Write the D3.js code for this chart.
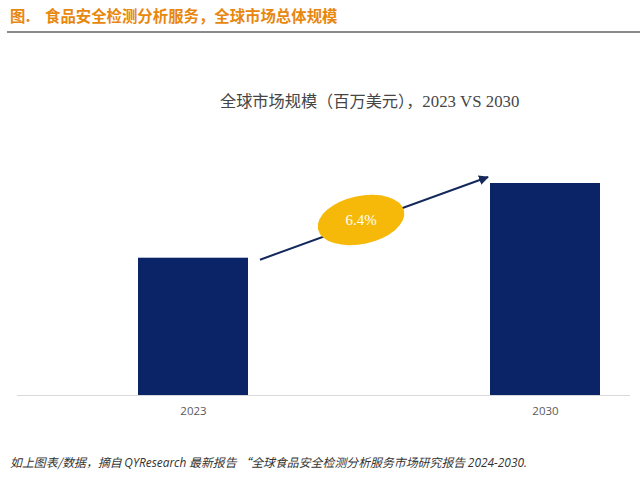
<!DOCTYPE html>
<html><head><meta charset="utf-8">
<script src="https://cdn.jsdelivr.net/npm/d3@7"></script>
<style>body{margin:0;background:#fff}svg{display:block}</style>
</head><body>
<script>
const categories = ["2023", "2030"];
const values = [100, 154.4];
const cagrLabel = "6.4%";
const headerLead = "图.";
const header = "食品安全检测分析服务，全球市场总体规模";
const chartTitleCn = "全球市场规模（百万美元），";
const chartTitleEn = "2023 VS 2030";
const footnote = ["如上图表/数据，摘自 ", "QYResearch", " 最新报告 “全球食品安全检测分析服务市场研究报告 ", "2024-2030."];

const W = 640, H = 479;
const svg = d3.select("body").append("svg").attr("width", W).attr("height", H);

// header
const hd = svg.append("g").attr("font-family", "Noto Sans CJK SC").attr("font-weight", "bold")
  .attr("font-size", 15.4).attr("fill", "#E8870E");
hd.append("text").attr("x", 10).attr("y", 22).text(headerLead);
hd.append("text").attr("x", 45).attr("y", 22).text(header);
svg.append("line").attr("x1", 7).attr("x2", 640).attr("y1", 32).attr("y2", 32)
  .attr("stroke", "#8a8a8a").attr("stroke-width", 2);

// title
const t = svg.append("text").attr("x", 220).attr("y", 107).attr("fill", "#454545").attr("font-size", 16.2);
t.append("tspan").attr("font-family", "Noto Sans CJK SC").text(chartTitleCn);
t.append("tspan").attr("font-family", "Liberation Serif").attr("font-size", 16.8).text(chartTitleEn);

// scales
const baseY = 395;
const x = d3.scalePoint().domain(categories).range([17, 721]).padding(0.5);
const y = d3.scaleLinear().domain([0, 154.4]).range([baseY, 183]);
const barW = 110;

svg.append("g").selectAll("rect").data(categories).join("rect")
  .attr("x", d => x(d) - barW / 2).attr("width", barW)
  .attr("y", (d, i) => y(values[i])).attr("height", (d, i) => baseY - y(values[i]))
  .attr("fill", "#0B2467");

// axis line
svg.append("line").attr("x1", 17).attr("x2", 630).attr("y1", baseY + 0.5).attr("y2", baseY + 0.5)
  .attr("stroke", "#d9d9d9").attr("stroke-width", 1);

const xAxis = svg.append("g").attr("transform", `translate(0,${baseY})`)
  .call(d3.axisBottom(x).tickSize(0).tickPadding(12));
xAxis.select(".domain").remove();
xAxis.selectAll("text").attr("font-family", "Open Sans").attr("font-size", 11.5).attr("fill", "#595959");

// arrow
const defs = svg.append("defs");
defs.append("marker").attr("id", "ah").attr("viewBox", "0 0 10 10").attr("refX", 9).attr("refY", 5)
  .attr("markerWidth", 5).attr("markerHeight", 5).attr("orient", "auto")
  .append("path").attr("d", "M0,0 L10,5 L0,10 z").attr("fill", "#14285C");
const x0 = x("2023") + barW / 2 + 12, y0 = y(values[0]) + 2;
const x1 = x("2030") - barW / 2 - 2, y1 = y(values[1]) - 6;
svg.append("line").attr("x1", x0).attr("y1", y0).attr("x2", x1).attr("y2", y1)
  .attr("stroke", "#14285C").attr("stroke-width", 2).attr("marker-end", "url(#ah)");

// ellipse
const cx = 361, cy = 220;
svg.append("ellipse").attr("cx", cx).attr("cy", cy).attr("rx", 44).attr("ry", 24)
  .attr("transform", `rotate(-12 ${cx} ${cy})`).attr("fill", "#F6B90A");
svg.append("text").attr("x", cx).attr("y", cy + 5).attr("text-anchor", "middle")
  .attr("font-family", "Liberation Serif").attr("font-size", 15).attr("fill", "#fff").text(cagrLabel);

// footnote
const f = svg.append("text").attr("x", 10).attr("y", 467).attr("font-size", 11.9).attr("fill", "#333")
  .attr("font-style", "italic");
footnote.forEach((s, i) => {
  f.append("tspan").attr("font-family", i % 2 ? "Open Sans" : "Noto Sans CJK SC").text(s);
});
</script>
</body></html>
